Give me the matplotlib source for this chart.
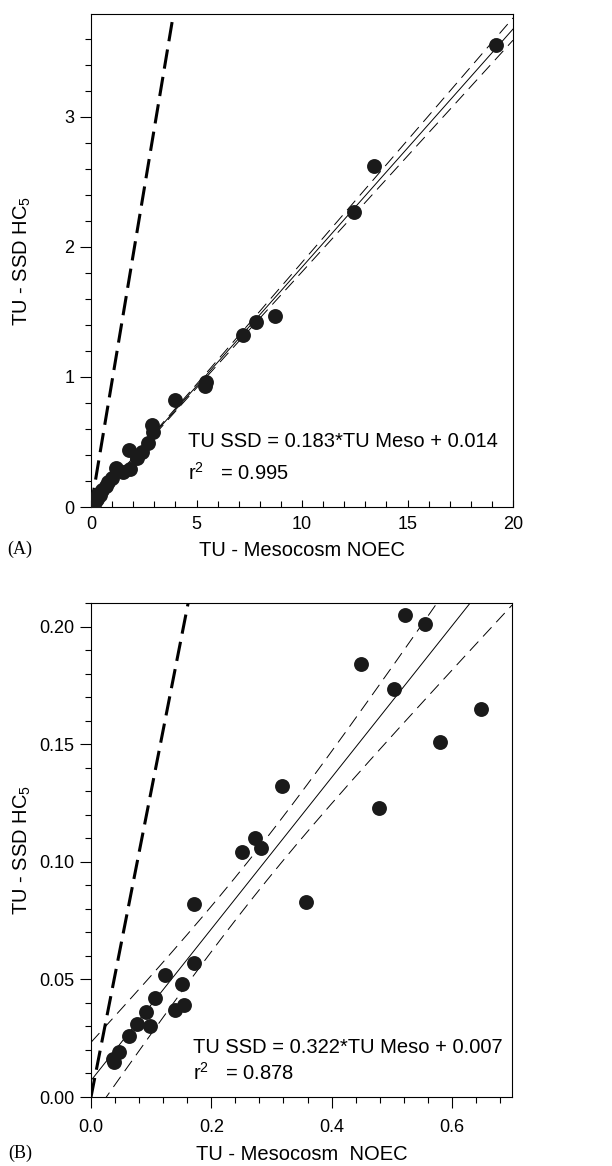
import numpy as np
import matplotlib
matplotlib.use("Agg")
import matplotlib.pyplot as plt
from matplotlib.ticker import MultipleLocator, FormatStrFormatter

plt.rcParams['font.family'] = ['Liberation Sans', 'DejaVu Sans']
plt.rcParams['mathtext.fontset'] = 'custom'
plt.rcParams['mathtext.rm'] = 'Liberation Sans'
plt.rcParams['mathtext.it'] = 'Liberation Sans:italic'
plt.rcParams['lines.scale_dashes'] = False

# ---------------- data ----------------
# Panel A
a_x = [19.2, 13.4, 12.45, 8.7, 7.8, 7.2, 5.45, 5.4, 4.0, 2.95, 2.9, 2.7, 2.4, 2.2,
       1.8, 1.85, 1.5, 1.2, 1.0, 0.8, 0.7, 0.5, 0.45, 0.35, 0.3, 0.2]
a_y = [3.55, 2.62, 2.27, 1.47, 1.42, 1.32, 0.96, 0.93, 0.82, 0.58, 0.63, 0.49, 0.42, 0.38,
       0.44, 0.29, 0.27, 0.30, 0.22, 0.19, 0.16, 0.13, 0.09, 0.10, 0.06, 0.04]
a_slope, a_icpt = 0.183, 0.014
a_band = (0.010, 0.005, 3.0)        # min half-width, growth, centre
a_ref_slope = 0.97                   # thick dashed reference line
a_eq = "TU SSD = 0.183*TU Meso + 0.014"
a_r2 = "0.995"

# Panel B
b_x = [0.522, 0.555, 0.449, 0.503, 0.649, 0.580, 0.317, 0.479, 0.273, 0.283, 0.251,
       0.171, 0.357, 0.171, 0.1225, 0.151, 0.107, 0.154, 0.140, 0.091, 0.0976, 0.076,
       0.064, 0.0466, 0.036, 0.0388]
b_y = [0.205, 0.201, 0.184, 0.1736, 0.165, 0.151, 0.132, 0.123, 0.110, 0.106, 0.104,
       0.082, 0.083, 0.057, 0.052, 0.048, 0.042, 0.039, 0.037, 0.036, 0.030, 0.031,
       0.026, 0.019, 0.016, 0.015]
b_slope, b_icpt = 0.322, 0.007
b_band = (0.009, 0.05, 0.27)
b_ref_slope = 1.3
b_eq = "TU SSD = 0.322*TU Meso + 0.007"
b_r2 = "0.878"

xlabel = "TU - Mesocosm NOEC"
xlabel_b = "TU - Mesocosm  NOEC"
ylabel = "TU - SSD HC$_5$"

W, H = 612, 1166
fig = plt.figure(figsize=(W / 100, H / 100), dpi=100)


def add_ax(l, r, t, b):
    return fig.add_axes([l / W, 1 - b / H, (r - l) / W, (b - t) / H])


ax1 = add_ax(91, 513, 14, 507)
ax2 = add_ax(91, 512, 603, 1097)

dot_color = '#1a1a1a'


def panel(ax, xs, ys, slope, icpt, band, ref_slope, xlim, ylim, eq, r2, eqpos, xl,
          xlab_y, xtick_dir, xtick_len, xtick_pad):
    bmin, bgrow, bcen = band
    xx = np.linspace(0, xlim[1], 400)
    yy = slope * xx + icpt
    half = np.sqrt(bmin ** 2 + (bgrow * (xx - bcen)) ** 2)
    ax.plot(xx, yy, color='black', lw=0.7, zorder=2)
    for sgn in (1, -1):
        ln, = ax.plot(xx, yy + sgn * half, color='black', lw=0.7, zorder=2)
        ln.set_dashes((9, 5))
    xr = np.array([0, xlim[1]])
    ln, = ax.plot(xr, ref_slope * xr, color='black', lw=2.2, zorder=2)
    ln.set_dashes((14, 6))
    ax.scatter(xs, ys, s=115, color=dot_color, zorder=3, linewidths=0)
    ax.set_xlim(*xlim)
    ax.set_ylim(*ylim)
    ax.text(eqpos[0], eqpos[1], eq, fontsize=14.5, va='center', ha='left')
    ax.text(eqpos[0], eqpos[2], "r$^{2}$   = " + r2, fontsize=14.5, va='center', ha='left')
    ax.set_xlabel(xl, fontsize=14.5)
    ax.xaxis.set_label_coords(0.5, xlab_y)
    ax.xaxis.label.set_verticalalignment('center')
    ax.set_ylabel(ylabel, fontsize=14.5)
    ax.yaxis.set_label_coords((22 - 91) / 422, 0.5)
    ax.yaxis.label.set_verticalalignment('center')
    ax.tick_params(axis='y', which='major', direction='out', length=8, width=0.8,
                   labelsize=13, pad=4)
    ax.tick_params(axis='y', which='minor', direction='out', length=4.5, width=0.8)
    ax.tick_params(axis='x', which='major', direction=xtick_dir, length=xtick_len[0],
                   width=0.8, labelsize=13, pad=xtick_pad)
    ax.tick_params(axis='x', which='minor', direction=xtick_dir, length=xtick_len[1],
                   width=0.8)
    ax.tick_params(top=False, right=False, which='both')
    for s in ax.spines.values():
        s.set_linewidth(0.8)


panel(ax1, a_x, a_y, a_slope, a_icpt, a_band, a_ref_slope, (0, 20), (0, 3.79),
      a_eq, a_r2, (4.6, 0.505, 0.26), xlabel, -(550 - 507) / 493,
      'in', (5, 4.5), 6.5)
ax1.xaxis.set_major_locator(MultipleLocator(5))
ax1.xaxis.set_minor_locator(MultipleLocator(1))
ax1.yaxis.set_major_locator(MultipleLocator(1))
ax1.yaxis.set_minor_locator(MultipleLocator(0.2))

panel(ax2, b_x, b_y, b_slope, b_icpt, b_band, b_ref_slope, (0, 0.7), (0, 0.21),
      b_eq, b_r2, (0.17, 0.0209, 0.0102), xlabel_b, -(1154 - 1097) / 494,
      'out', (8, 4.5), 7.5)
ax2.xaxis.set_major_locator(MultipleLocator(0.2))
ax2.xaxis.set_minor_locator(MultipleLocator(0.04))
ax2.xaxis.set_major_formatter(FormatStrFormatter('%.1f'))
ax2.yaxis.set_major_locator(MultipleLocator(0.05))
ax2.yaxis.set_minor_locator(MultipleLocator(0.01))
ax2.yaxis.set_major_formatter(FormatStrFormatter('%.2f'))

fig.text(20 / W, 1 - 549 / H, "(A)", family='Liberation Serif', fontsize=13, ha='center', va='center')
fig.text(20 / W, 1 - 1153 / H, "(B)", family='Liberation Serif', fontsize=13, ha='center', va='center')

fig.savefig("out.png", dpi=100)
